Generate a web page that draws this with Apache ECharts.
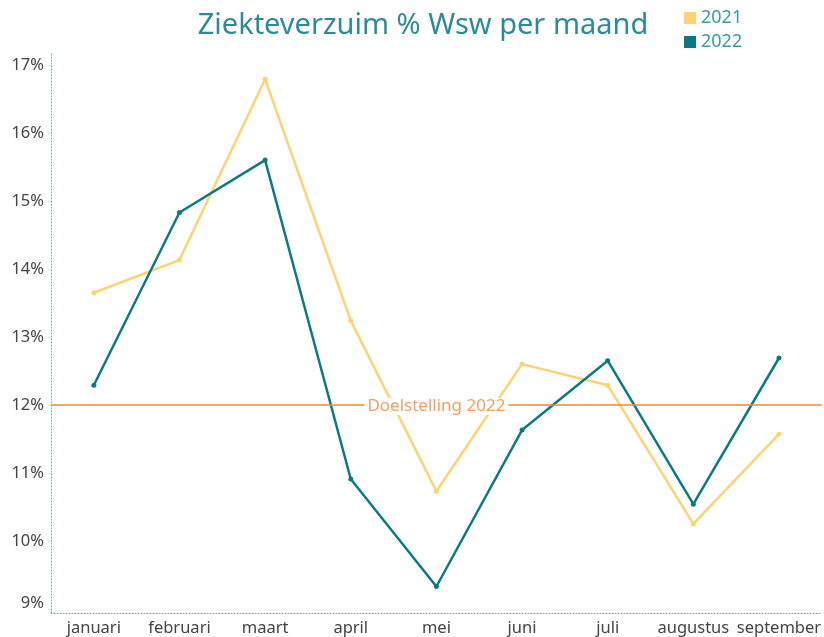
<!DOCTYPE html>
<html>
<head>
<meta charset="utf-8">
<style>
  html, body { margin: 0; padding: 0; background: #fff; }
  #chart { width: 824px; height: 637px; }
</style>
<script src="https://cdn.jsdelivr.net/npm/echarts@6/dist/echarts.min.js"></script>
</head>
<body>
<div id="chart"></div>
<script>
// data
var months = ['januari', 'februari', 'maart', 'april', 'mei', 'juni', 'juli', 'augustus', 'september'];
var verzuim2021 = [13.65, 14.13, 16.79, 13.24, 10.73, 12.60, 12.29, 10.25, 11.57];
var verzuim2022 = [12.29, 14.83, 15.60, 10.91, 9.33, 11.63, 12.65, 10.54, 12.69];
var yTicks = [9, 10, 11, 12, 13, 14, 15, 16, 17];
var doelstelling = 12;

var geel = '#FFD273';
var teal = '#0A7B83';
var font = 'Noto Sans';

var chart = echarts.init(document.getElementById('chart'));

chart.setOption({
	animation: false,
	title: {
		text: 'Ziekteverzuim % Wsw per maand',
		left: 418,
		textAlign: 'center',
		top: 6,
		textStyle: {
			color: '#2C8C95',
			fontFamily: font,
			fontWeight: 'normal',
			fontSize: 29
		}
	},
	legend: {
		orient: 'vertical',
		left: 679,
		top: 4,
		itemWidth: 12,
		itemHeight: 12,
		itemGap: 6,
		icon: 'rect',
		data: ['2021', '2022'],
		textStyle: {
			color: '#3A9AA5',
			fontFamily: font,
			fontSize: 18
		}
	},
	grid: {
		left: 51,
		right: 0,
		top: 52,
		bottom: 24,
		containLabel: false
	},
	xAxis: {
		type: 'category',
		data: months,
		boundaryGap: true,
		axisLine: {
			show: true,
			lineStyle: { color: '#6FAAB2', type: [1, 2], width: 1 }
		},
		axisTick: { show: false },
		axisLabel: {
			color: '#444',
			fontFamily: font,
			fontSize: 16.5,
			margin: 7,
			interval: 0
		},
		splitLine: { show: false }
	},
	yAxis: {
		type: 'value',
		min: 8.94,
		max: 17.19,
		axisLine: {
			show: true,
			lineStyle: { color: '#6FAAB2', type: [1, 2], width: 1 }
		},
		axisTick: {
			show: true,
			length: 3,
			customValues: yTicks,
			lineStyle: { color: '#e2e2e2' }
		},
		axisLabel: {
			customValues: yTicks,
			formatter: function (v) {
				var t = Math.round(v) + '%';
				return Math.round(v) === 9 ? '{low|' + t + '}' : t;
			},
			rich: {
				low: { color: '#444', fontFamily: font, fontSize: 16.5, padding: [0, 0, 12, 0] }
			},
			color: '#444',
			fontFamily: font,
			fontSize: 16.5,
			margin: 7
		},
		splitLine: { show: false }
	},
	series: [
		{
			name: '2021',
			type: 'line',
			data: verzuim2021,
			color: geel,
			symbol: 'circle',
			symbolSize: 5,
			lineStyle: { width: 2.5, color: geel },
			itemStyle: { color: geel },
			z: 2
		},
		{
			name: '2022',
			type: 'line',
			data: verzuim2022,
			color: teal,
			symbol: 'circle',
			symbolSize: 5,
			lineStyle: { width: 2.5, color: teal },
			itemStyle: { color: teal },
			z: 3,
			markLine: {
				silent: true,
				symbol: 'none',
				lineStyle: { color: '#F08A2C', width: 1.5, type: 'solid' },
				label: {
					show: true,
					position: 'middle',
					formatter: 'Doelstelling 2022',
					color: '#F4A060',
					fontFamily: font,
					fontSize: 17,
					backgroundColor: '#fff',
					padding: [0, 3],
					distance: -10
				},
				data: [{ yAxis: doelstelling }]
			}
		}
	]
});
</script>
</body>
</html>
